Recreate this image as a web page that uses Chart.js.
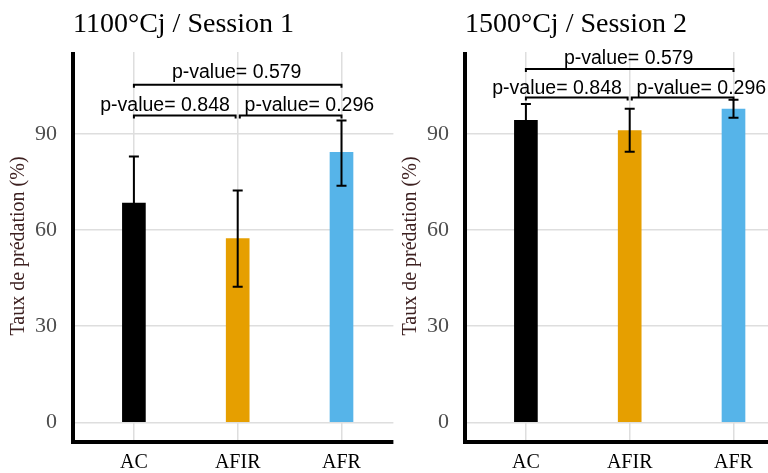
<!DOCTYPE html>
<html>
<head>
<meta charset="utf-8">
<script src="https://cdn.jsdelivr.net/npm/chart.js@4"></script>
<style>
  html, body { margin: 0; padding: 0; background: #fff; overflow: hidden; }
  body { width: 768px; height: 473px; position: relative; }
  canvas { position: absolute; top: 0; }
  #panel1 { left: 0; }
  #panel2 { left: 392px; }
</style>
</head>
<body>
<canvas id="panel1" width="400" height="473"></canvas>
<canvas id="panel2" width="400" height="473"></canvas>
<script>
const categories = ['AC', 'AFIR', 'AFR'];
const barColors = ['#000000', '#E69F00', '#56B4E9'];
const yTicks = [0, 30, 60, 90];

// Session 1 (1100°Cj)
const s1Means = [68.4, 57.3, 84.2];
const s1Upper = [82.9, 72.3, 94.1];
const s1Lower = [53.9, 42.3, 73.8];
const s1BracketLevels = [95.7, 95.7, 105.3];
const s1LabelLevels = [97.2, 97.2, 107.5];

// Session 2 (1500°Cj)
const s2Means = [94.2, 91.0, 97.7];
const s2Upper = [99.3, 97.8, 100.6];
const s2Lower = [89.1, 84.4, 95.0];
const s2BracketLevels = [101.3, 101.3, 110.2];
const s2LabelLevels = [102.4, 102.4, 111.9];

// comparisons: AC-AFIR, AFIR-AFR, AC-AFR
const pLabels = ['p-value= 0.848', 'p-value= 0.296', 'p-value= 0.579'];
const bracketFrom = [0, 1.02, 0];
const bracketTo = [0.98, 2, 2];
const labelX = [0.3, 1.69, 0.99];

const gridColor = '#dedede';

function makeDecor(title, upper, lower, levels, labelLevels) {
    return {
        id: 'decor',
        afterDatasetsDraw(chart) {
            const ctx = chart.ctx;
            const x = chart.scales.x;
            const y = chart.scales.y;
            ctx.save();
            ctx.strokeStyle = '#000';
            ctx.lineWidth = 2;
            // error bars
            upper.forEach((hi, i) => {
                const px = x.getPixelForValue(i);
                const top = y.getPixelForValue(hi);
                const bot = y.getPixelForValue(lower[i]);
                ctx.beginPath();
                ctx.moveTo(px, top); ctx.lineTo(px, bot);
                ctx.moveTo(px - 5, top); ctx.lineTo(px + 5, top);
                ctx.moveTo(px - 5, bot); ctx.lineTo(px + 5, bot);
                ctx.stroke();
            });
            // significance brackets
            levels.forEach((lvl, i) => {
                const x1 = x.getPixelForValue(bracketFrom[i]);
                const x2 = x.getPixelForValue(bracketTo[i]);
                const py = y.getPixelForValue(lvl);
                ctx.beginPath();
                ctx.moveTo(x1, py + 3); ctx.lineTo(x1, py);
                ctx.lineTo(x2, py); ctx.lineTo(x2, py + 3);
                ctx.stroke();
            });
            ctx.font = '19.5px "Liberation Sans", Arial, sans-serif';
            ctx.fillStyle = '#000';
            ctx.textAlign = 'center';
            ctx.textBaseline = 'alphabetic';
            pLabels.forEach((t, i) => {
                ctx.fillText(t, x.getPixelForValue(labelX[i]), y.getPixelForValue(labelLevels[i]));
            });
            ctx.restore();
        },
        afterDraw(chart) {
            const ctx = chart.ctx;
            const a = chart.chartArea;
            const axisX = a.left - 9;
            ctx.save();
            ctx.fillStyle = '#000';
            ctx.fillRect(axisX - 2, a.top, 4, a.bottom - a.top + 4);
            ctx.fillRect(axisX - 2, a.bottom, a.right - axisX + 2, 4);
            ctx.font = '28px "Liberation Serif", "Times New Roman", serif';
            ctx.textAlign = 'left';
            ctx.textBaseline = 'alphabetic';
            ctx.fillText(title, axisX, 32);
            ctx.restore();
        }
    };
}

function createPanel(canvasId, title, means, upper, lower, levels, labelLevels) {
    const ctx = document.getElementById(canvasId).getContext('2d');
    return new Chart(ctx, {
        type: 'bar',
        data: {
            labels: categories,
            datasets: [{ data: means, backgroundColor: barColors, borderWidth: 0, barThickness: 23 }]
        },
        options: {
            responsive: false,
            animation: false,
            devicePixelRatio: 1,
            layout: { padding: { top: 52, right: 6.6, left: 0, bottom: 0 } },
            plugins: { legend: { display: false }, tooltip: { enabled: false } },
            scales: {
                x: {
                    offset: true,
                    grid: { display: true, offset: false, drawTicks: false, color: gridColor, lineWidth: 1.5 },
                    border: { display: false },
                    ticks: { color: '#000', padding: 11, font: { family: 'Liberation Serif', size: 20 } },
                    afterFit: (s) => { s.height = 33; }
                },
                y: {
                    min: -5.5,
                    max: 115.5,
                    afterBuildTicks: (s) => { s.ticks = yTicks.map(v => ({ value: v })); },
                    grid: { color: gridColor, lineWidth: 1.5, drawTicks: true, tickLength: 7, tickColor: gridColor },
                    border: { display: false },
                    ticks: { color: '#4d4d4d', padding: 18, font: { family: 'Liberation Serif', size: 22 } },
                    title: {
                        display: true,
                        text: 'Taux de prédation (%)',
                        color: '#3d2020',
                        padding: { top: 7, bottom: 0 },
                        font: { family: 'Liberation Serif', size: 20 }
                    },
                    afterFit: (s) => { s.width = 82; }
                }
            }
        },
        plugins: [makeDecor(title, upper, lower, levels, labelLevels)]
    });
}

createPanel('panel1', '1100°Cj / Session 1', s1Means, s1Upper, s1Lower, s1BracketLevels, s1LabelLevels);
createPanel('panel2', '1500°Cj / Session 2', s2Means, s2Upper, s2Lower, s2BracketLevels, s2LabelLevels);
</script>
</body>
</html>
